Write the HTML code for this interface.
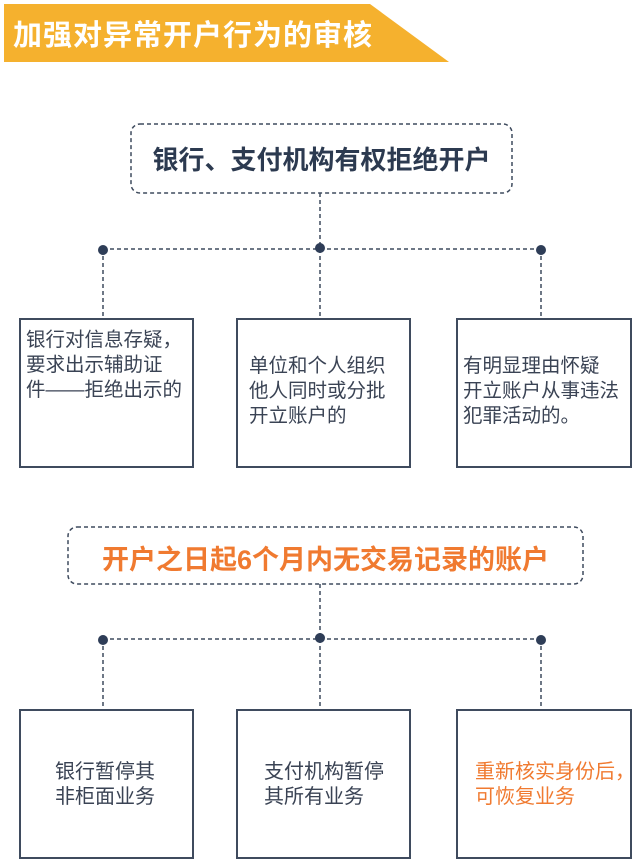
<!DOCTYPE html>
<html><head><meta charset="utf-8"><style>
body{margin:0;width:639px;height:864px;background:#fff;position:relative;overflow:hidden;font-family:"Liberation Sans","Noto Sans CJK SC",sans-serif}
.a{position:absolute}
.box{position:absolute;border:2px solid #3f4b5e;box-sizing:border-box;background:#fff}
.t{position:absolute;font-size:19.5px;color:#3a4354;line-height:25px;white-space:nowrap}
</style></head><body>
<svg class="a" style="left:0;top:0" width="639" height="864">
<polygon points="4,4 370,4 449,62 4,62" fill="#f5b12e"/>
<g stroke="#3f4b5e" stroke-width="1.5" stroke-dasharray="4,3" fill="none">
<rect x="131" y="124" width="381" height="69" rx="9"/>
<line x1="320" y1="193" x2="320" y2="249"/>
<line x1="103" y1="249" x2="541" y2="249"/>
<line x1="103" y1="249" x2="103" y2="318"/>
<line x1="320" y1="249" x2="320" y2="318"/>
<line x1="541" y1="249" x2="541" y2="318"/>
<rect x="68" y="527" width="515" height="57" rx="9"/>
<line x1="320" y1="584" x2="320" y2="639"/>
<line x1="103" y1="639" x2="541" y2="639"/>
<line x1="103" y1="639" x2="103" y2="710"/>
<line x1="320" y1="639" x2="320" y2="710"/>
<line x1="541" y1="639" x2="541" y2="710"/>
</g>
<g fill="#2e3d57"><circle cx="103" cy="250" r="5"/><circle cx="320" cy="248" r="5"/><circle cx="541" cy="250" r="5"/>
<circle cx="103" cy="640" r="5"/><circle cx="320" cy="638" r="5"/><circle cx="541" cy="640" r="5"/></g>
</svg>
<div class="a" style="left:13px;top:12px;font-size:29px;font-weight:bold;color:#fff;letter-spacing:1px">加强对异常开户行为的审核</div>
<div class="a" style="left:131px;top:140px;width:381px;text-align:center;font-size:26px;font-weight:bold;color:#2c3a50">银行、支付机构有权拒绝开户</div>
<div class="a" style="left:68px;top:538px;width:515px;text-align:center;font-size:27px;font-weight:bold;color:#f07a30">开户之日起6个月内无交易记录的账户</div>
<div class="box" style="left:19px;top:318px;width:175px;height:150px"></div>
<div class="box" style="left:236px;top:318px;width:175px;height:150px"></div>
<div class="box" style="left:456px;top:318px;width:176px;height:150px"></div>
<div class="t" style="left:26px;top:328px">银行对信息存疑，<br>要求出示辅助证<br>件——拒绝出示的</div>
<div class="t" style="left:249px;top:354px">单位和个人组织<br>他人同时或分批<br>开立账户的</div>
<div class="t" style="left:463px;top:354px">有明显理由怀疑<br>开立账户从事违法<br>犯罪活动的。</div>
<div class="box" style="left:19px;top:709px;width:175px;height:150px"></div>
<div class="box" style="left:236px;top:709px;width:175px;height:150px"></div>
<div class="box" style="left:456px;top:709px;width:176px;height:150px"></div>
<div class="t" style="left:55px;top:760px;font-size:20px">银行暂停其<br>非柜面业务</div>
<div class="t" style="left:264px;top:760px;font-size:20px">支付机构暂停<br>其所有业务</div>
<div class="t" style="left:475px;top:760px;font-size:20px;color:#f07a30">重新核实身份后，<br>可恢复业务</div>
</body></html>
